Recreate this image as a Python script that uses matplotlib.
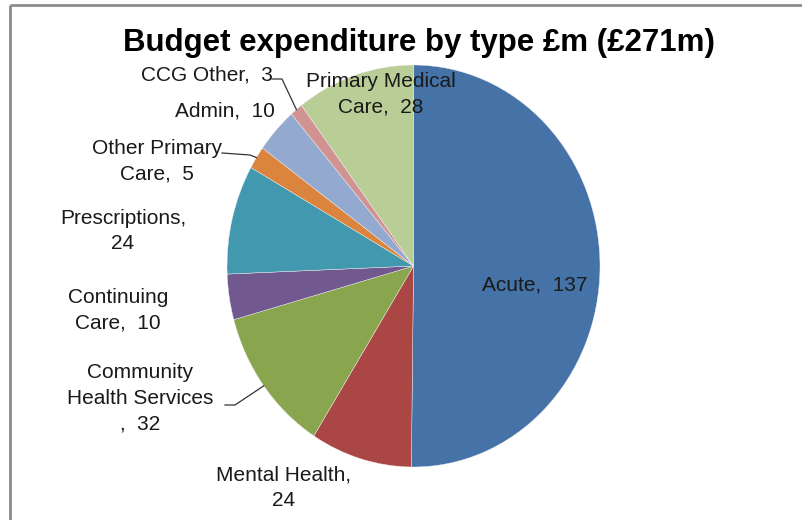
import matplotlib
matplotlib.use("Agg")
import matplotlib.pyplot as plt
from matplotlib import font_manager
import numpy as np

# budget split, £m
categories = ["Acute", "Mental Health", "Community\nHealth Services", "Continuing\nCare",
              "Prescriptions", "Other Primary\nCare", "Admin", "CCG Other", "Primary Medical\nCare"]
values = [137, 24, 32, 10, 24, 5, 10, 3, 28]
# how the value is joined onto the name in each label
joins = [",  ", ",\n", "\n,  ", ",  ", ",\n", ",  ", ",  ", ",  ", ",  "]
colours = ["#4572A7", "#AA4643", "#89A54E", "#71588F", "#4198AF",
           "#DB843D", "#93A9CF", "#D19392", "#B9CD96"]
title = "Budget expenditure by type £m (£271m)"

# label centres in pixels (x, y from top)
label_pos = [(535, 285), (284, 488), (140, 398), (118, 310), (123, 231),
             (157, 161), (225, 111), (207, 75), (381, 94)]
# which labels get a leader line and where the elbow sits
leaders = {2: (235, 405), 5: (250, 155), 7: (282, 79)}
leader_start = {2: (225, 405), 5: (222, 153), 7: (272, 79)}

W, H = 803, 520
names = set(f.name for f in font_manager.fontManager.ttflist)
fam = "Liberation Sans Narrow" if "Liberation Sans Narrow" in names else "Liberation Sans"

fig = plt.figure(figsize=(W / 100, H / 100), dpi=100)
fig.patch.set_facecolor("white")

# pie is slightly taller than wide
px0, px1, py0, py1 = 227, 600, 65, 467
ax = fig.add_axes([px0 / W, 1 - py1 / H, (px1 - px0) / W, (py1 - py0) / H])
wedges, _ = ax.pie(values, colors=colours, startangle=90, counterclock=False,
                   wedgeprops=dict(linewidth=0.3, edgecolor="#f0f0f0"))
ax.set_xlim(-1, 1)
ax.set_ylim(-1, 1)
ax.set_aspect("auto")
ax.axis("off")

# overlay in pixel coordinates for text and leader lines
ov = fig.add_axes([0, 0, 1, 1], zorder=3)
ov.set_xlim(0, W)
ov.set_ylim(H, 0)
ov.axis("off")
ov.patch.set_alpha(0)

fig.canvas.draw()
to_px = ax.transData + ov.transData.inverted()

for i, (name, val) in enumerate(zip(categories, values)):
    x, y = label_pos[i]
    ov.text(x, y, name + joins[i] + str(val), ha="center", va="center",
            fontsize=15, family=fam, color="#1a1a1a", linespacing=1.45)
    if i in leaders:
        w = wedges[i]
        mid = np.deg2rad((w.theta1 + w.theta2) / 2)
        ex, ey = to_px.transform((np.cos(mid), np.sin(mid)))
        sx, sy = leader_start[i]
        kx, ky = leaders[i]
        ov.plot([sx, kx, ex], [sy, ky, ey], color="#333333", lw=0.9)

ov.text(419, 43, title, ha="center", va="center", fontsize=22.5,
        family=fam, fontweight="bold", color="black")

# chart border (top and left visible)
ov.plot([10, W], [5, 5], color="#8c8c8c", lw=2, solid_capstyle="butt")
ov.plot([10, 10], [5, H], color="#8c8c8c", lw=2, solid_capstyle="butt")

fig.savefig("out.png", dpi=100, facecolor="white")
